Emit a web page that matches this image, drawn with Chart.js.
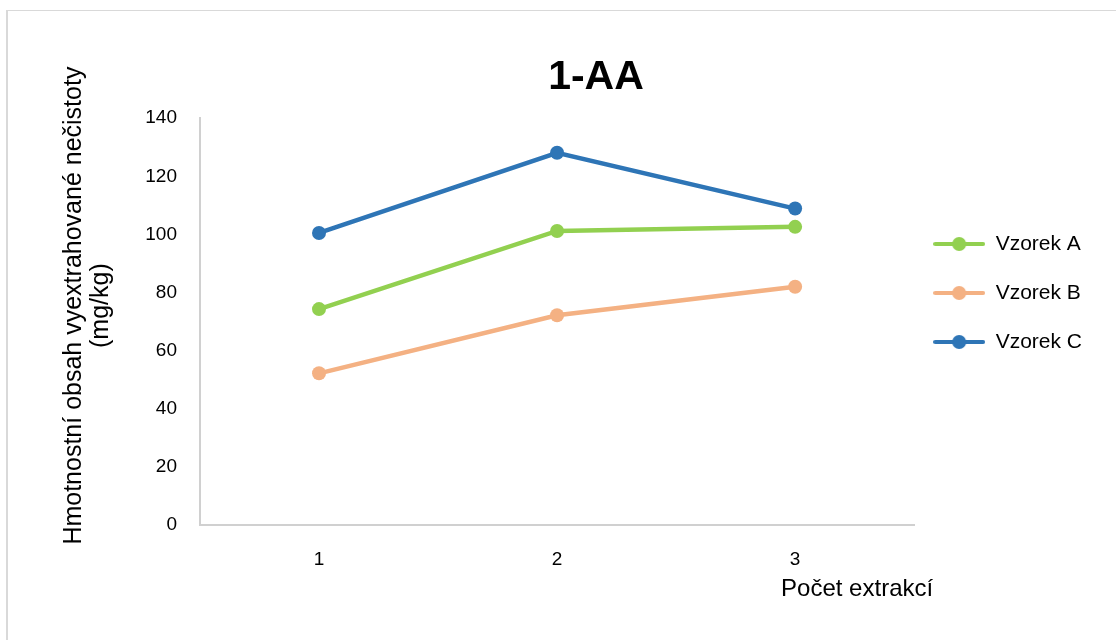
<!DOCTYPE html>
<html>
<head>
<meta charset="utf-8">
<script src="https://cdn.jsdelivr.net/npm/chart.js@4/dist/chart.umd.min.js"></script>
<style>
    html, body { margin: 0; padding: 0; background: #fff; }
    #wrap  { position: relative; width: 1116px; height: 640px; overflow: hidden; }
    #frame { position: absolute; left: 6px; top: 10px; width: 1200px; height: 700px;
             border-left: 2px solid #d9d9d9; border-top: 1px solid #d9d9d9; }
    canvas { position: absolute; left: 0; top: 0; }
</style>
</head>
<body>
<div id="wrap">
    <div id="frame"></div>
    <canvas id="chart" width="1116" height="640"></canvas>
</div>
<script>
// ─── Data ────────────────────────────────────────────────────────────────────

const extractions = ['1', '2', '3'];
const sampleA     = [74.3, 101.2, 102.6];
const sampleB     = [52.2, 72.2, 82.0];
const sampleC     = [100.5, 128.1, 108.9];

const chartTitle  = '1-AA';
const yTitle      = ['Hmotnostní obsah vyextrahované nečistoty', '(mg/kg)'];
const xTitle      = 'Počet extrakcí';

const FONT = '"Liberation Sans", Arial, sans-serif';

const COLORS = {
    A: '#92d050',
    B: '#f4b183',
    C: '#2e75b6',
};

// Excel-like legend swatch: short line with a dot in the middle
function swatch(color) {
    const c = document.createElement('canvas');
    c.width = 52; c.height = 16;
    const g = c.getContext('2d');
    g.strokeStyle = color;
    g.lineWidth = 4;
    g.lineCap = 'round';
    g.beginPath(); g.moveTo(2, 8); g.lineTo(50, 8); g.stroke();
    g.fillStyle = color;
    g.beginPath(); g.arc(26, 8, 7, 0, Math.PI * 2); g.fill();
    return c;
}

const series = (label, data, color) => ({
    label, data,
    borderColor: color,
    backgroundColor: color,
    pointBackgroundColor: color,
    pointBorderWidth: 0,
    pointRadius: 7,
    pointHoverRadius: 7,
    borderWidth: 4.5,
    tension: 0,
});

// Axis captions drawn by hand so they can sit off-centre like the original
const axisTitles = {
    id: 'axisTitles',
    afterDraw(chart) {
        const { ctx, chartArea: a } = chart;
        ctx.save();
        ctx.fillStyle = '#000';
        ctx.font = `25px ${FONT}`;
        ctx.textBaseline = 'middle';

        ctx.save();
        ctx.translate(a.left - 126, a.top + a.height / 2 - 16);
        ctx.rotate(-Math.PI / 2);
        ctx.textAlign = 'center';
        yTitle.forEach((line, i) => ctx.fillText(line, 0, i * 27));
        ctx.restore();

        ctx.font = `24px ${FONT}`;
        ctx.textAlign = 'right';
        ctx.fillText(xTitle, a.right + 19, a.bottom + 64);
        ctx.restore();
    },
};

// Title centred over the whole frame, legend lifted a bit
const nudge = {
    id: 'nudge',
    afterLayout(chart) {
        const t = chart.titleBlock;
        const dx = 596 - (t.left + t.right) / 2;
        t.left += dx; t.right += dx;

        const lg = chart.legend;
        lg.left -= 9;  lg.right -= 9;
        lg.top  -= 27; lg.bottom -= 27;
    },
};

const ctx = document.getElementById('chart').getContext('2d');
const chart = new Chart(ctx, {
    type: 'line',
    data: {
        labels: extractions,
        datasets: [
            series('Vzorek A', sampleA, COLORS.A),
            series('Vzorek B', sampleB, COLORS.B),
            series('Vzorek C', sampleC, COLORS.C),
        ],
    },
    options: {
        responsive: false,
        animation: false,
        layout: { padding: { top: 0, left: 0, bottom: 0, right: 15 } },
        plugins: {
            tooltip: { enabled: false },
            title: {
                display: true,
                text: chartTitle,
                color: '#000',
                font: { family: FONT, size: 41, weight: 'bold' },
                padding: { top: 53, bottom: 16 },
            },
            legend: {
                position: 'right',
                align: 'center',
                labels: {
                    color: '#000',
                    font: { family: FONT, size: 21 },
                    usePointStyle: true,
                    pointStyleWidth: 52,
                    padding: 28,
                    generateLabels(chart) {
                        const items = Chart.defaults.plugins.legend.labels.generateLabels(chart);
                        items.forEach(it => {
                            it.pointStyle = swatch(chart.data.datasets[it.datasetIndex].borderColor);
                        });
                        return items;
                    },
                },
            },
        },
        scales: {
            x: {
                type: 'category',
                offset: true,
                grid:   { display: false },
                border: { color: '#d0d0d0', width: 2 },
                ticks:  { color: '#000', font: { family: FONT, size: 19 }, padding: 15 },
                afterFit(s) { s.height = 115; },
            },
            y: {
                min: 0,
                max: 140,
                grid:   { display: false },
                border: { color: '#d0d0d0', width: 2 },
                ticks:  { color: '#000', font: { family: FONT, size: 19 }, padding: 15, stepSize: 20 },
                afterFit(s) { s.width = 200; },
            },
        },
    },
    plugins: [axisTitles, nudge],
});
</script>
</body>
</html>
